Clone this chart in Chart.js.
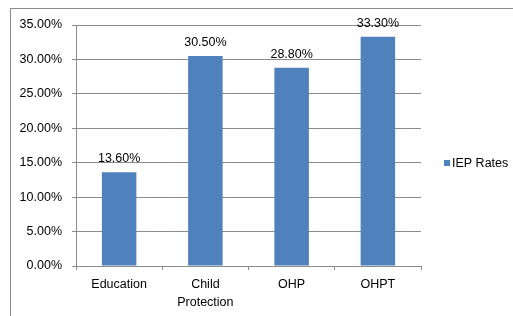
<!DOCTYPE html>
<html>
<head>
<meta charset="utf-8">
<script src="https://cdn.jsdelivr.net/npm/chart.js@4.4.1/dist/chart.umd.min.js"></script>
<style>
  html, body { margin: 0; padding: 0; background: #fff; overflow: hidden; }
  #frame { position: absolute; left: 10px; top: 8px; width: 600px; height: 400px; border: 1px solid #8c8c8c; }
  #wrap { position: absolute; left: 0; top: 0; width: 513px; height: 316px; }
</style>
</head>
<body>
<div id="frame"></div>
<div id="wrap"><canvas id="chart"></canvas></div>
<script>
// Dados do gráfico
const categories = [['Education'], ['Child', 'Protection'], ['OHP'], ['OHPT']];
const iepRates = [0.136, 0.305, 0.288, 0.333];
const seriesName = 'IEP Rates';
const yTicks = [0, 0.05, 0.10, 0.15, 0.20, 0.25, 0.30, 0.35];

const barColor = '#4f81bd';
const gridColor = '#8c8c8c';
const fontFamily = '"Liberation Sans", Arial, sans-serif';

function pct(v) {
    return (v * 100).toFixed(2) + '%';
}

// Rótulos de valor acima das barras + legenda à direita
const labelsPlugin = {
    id: 'valueLabels',
    afterDatasetsDraw(chart) {
        const ctx = chart.ctx;
        const meta = chart.getDatasetMeta(0);
        ctx.save();
        ctx.font = '12.5px ' + fontFamily;
        ctx.fillStyle = '#000';
        ctx.textAlign = 'center';
        ctx.textBaseline = 'alphabetic';
        meta.data.forEach((bar, i) => {
            ctx.fillText(pct(iepRates[i]), bar.x, bar.y - 10);
        });

        // legenda
        const lx = 444, ly = 163;
        ctx.fillStyle = barColor;
        ctx.fillRect(lx, ly - 3, 6, 6);
        ctx.fillStyle = '#000';
        ctx.textAlign = 'left';
        ctx.textBaseline = 'middle';
        ctx.fillText(chart.data.datasets[0].label, lx + 8, ly + 1);
        ctx.restore();
    }
};

const ctx = document.getElementById('chart').getContext('2d');
const chart = new Chart(ctx, {
    type: 'bar',
    data: {
        labels: categories,
        datasets: [{
            label: seriesName,
            data: iepRates,
            backgroundColor: barColor,
            categoryPercentage: 0.8,
            barPercentage: 0.5
        }]
    },
    options: {
        responsive: true,
        maintainAspectRatio: false,
        animation: false,
        layout: { padding: { left: 0, top: 25, right: 92, bottom: 0 } },
        plugins: {
            legend: { display: false },
            tooltip: { enabled: false }
        },
        scales: {
            x: {
                grid: {
                    offset: true,
                    drawOnChartArea: false,
                    drawTicks: true,
                    tickLength: 4,
                    color: gridColor
                },
                border: { color: gridColor },
                ticks: {
                    color: '#000',
                    padding: 6,
                    maxRotation: 0,
                    autoSkip: false,
                    font: { family: fontFamily, size: 12.5, lineHeight: 1.4 }
                },
                afterFit(scale) { scale.height = 50; }
            },
            y: {
                min: 0,
                max: 0.35,
                afterBuildTicks(scale) {
                    scale.ticks = yTicks.map(v => ({ value: v }));
                },
                grid: {
                    color: gridColor,
                    drawTicks: true,
                    tickLength: 4
                },
                border: { color: gridColor },
                ticks: {
                    color: '#000',
                    padding: 10,
                    font: { family: fontFamily, size: 12.5 },
                    callback: v => pct(v)
                },
                afterFit(scale) { scale.width = 76; }
            }
        }
    },
    plugins: [labelsPlugin]
});
</script>
</body>
</html>
